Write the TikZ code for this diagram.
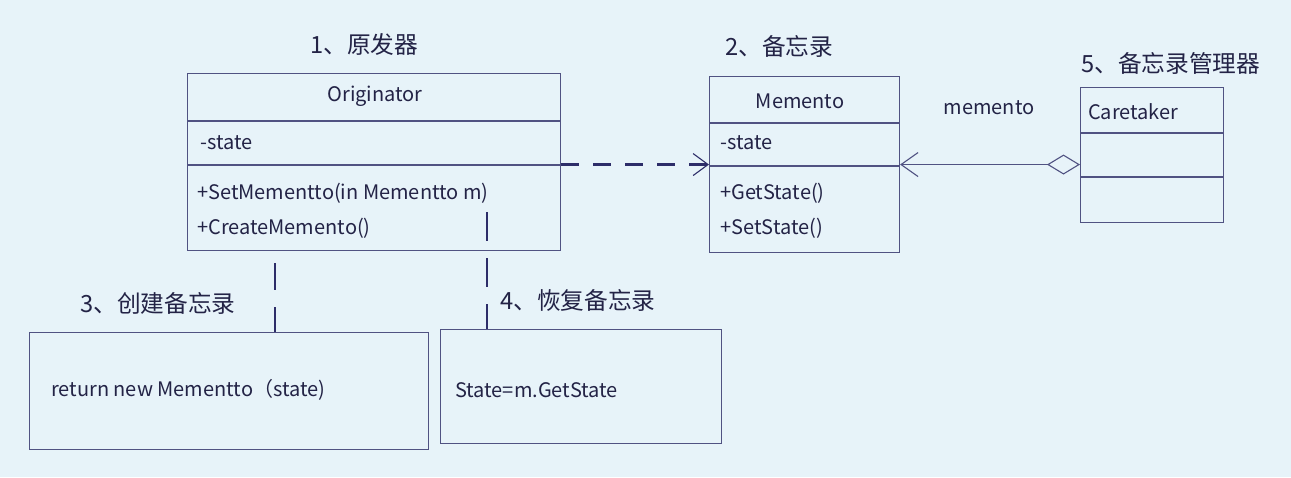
\documentclass[tikz,border=0pt]{standalone}
\usepackage{fontspec}
\setmainfont{Noto Sans CJK SC}
\usetikzlibrary{arrows.meta}
\definecolor{bgc}{RGB}{231,243,249}
\definecolor{ln}{RGB}{80,82,130}
\definecolor{dk}{RGB}{45,45,105}
\definecolor{tx}{RGB}{35,35,70}
\begin{document}
\begin{tikzpicture}[x=1pt,y=-1pt,
  box/.style={draw=ln, line width=1.1pt, inner sep=0pt, anchor=north west},
  lbl/.style={font=\fontsize{20}{23}\selectfont, text=tx, inner sep=0pt},
  captxt/.style={font=\fontsize{23.7}{27}\selectfont, text=tx, inner sep=0pt, anchor=west},
  div/.style={draw=ln, line width=1.1pt},
  vdash/.style={draw=dk, line width=2pt, dash pattern=on 26pt off 17pt}
]
\fill[bgc] (0,0) rectangle (1291,477);
\useasboundingbox (0,0) rectangle (1291,477);

% Originator
\node[box, minimum width=373pt, minimum height=177pt] (orig) at (187,73) {};
\draw[div] (187,121) -- (560,121);
\draw[div] (187,165) -- (560,165);
\node[lbl] (origT) at (375,96) {Originator};
\node[lbl, anchor=west] (origA) at (200,143) {-state};
\node[lbl, anchor=west] (origM1) at (197,193) {+SetMementto(in Mementto m)};
\node[lbl, anchor=west] (origM2) at (197,228) {+CreateMemento()};

% Memento
\node[box, minimum width=190pt, minimum height=176pt] (mem) at (709,76) {};
\draw[div] (709,123) -- (899,123);
\draw[div] (709,166) -- (899,166);
\node[lbl] (memT) at (800,101) {Memento};
\node[lbl, anchor=west] (memA) at (720,143) {-state};
\node[lbl, anchor=west] (memM1) at (720,193) {+GetState()};
\node[lbl, anchor=west] (memM2) at (720,228) {+SetState()};

% Caretaker
\node[box, minimum width=143pt, minimum height=135pt] (care) at (1080,87) {};
\draw[div] (1080,133) -- (1223,133);
\draw[div] (1080,177) -- (1223,177);
\node[lbl, anchor=west] (careT) at (1088,112) {Caretaker};

% bottom boxes
\node[box, minimum width=399pt, minimum height=117pt] (b3) at (29,332) {};
\node[lbl, anchor=west] (b3t) at (51,390) {return new Mementto（state)};
\node[box, minimum width=281pt, minimum height=114pt] (b4) at (440,329) {};
\node[lbl, anchor=west] (b4t) at (455,390) {State=m.GetState};

% captions
\node[captxt] (c1) at (310,44) {1、原发器};
\node[captxt] (c2) at (725,46) {2、备忘录};
\node[captxt] (c5) at (1081,63) {5、备忘录管理器};
\node[captxt] (c3) at (80,303) {3、创建备忘录};
\node[captxt] (c4) at (500,300) {4、恢复备忘录};
\node[lbl] (ml) at (989,108) {memento};

% connectors
\draw[draw=dk, line width=2.3pt, dash pattern=on 18pt off 14pt,
  -{Straight Barb[length=15pt,width=22pt,line width=1.1pt]}]
  (orig.east |- mem.west) -- (mem.west);
\draw[draw=ln, line width=1.1pt,
  {Straight Barb[length=17pt,width=24pt]}-{Diamond[length=33pt,width=20pt,fill=bgc]}]
  (mem.east) -- (mem.east -| care.west);

\coordinate (p3) at (275,332);
\draw[vdash, dash pattern=on 27pt off 17pt, dash phase=32pt] (orig.south -| p3) -- (p3);
\coordinate (p4) at (487,212);
\draw[vdash, dash pattern=on 29pt off 17pt] (p4) -- (p4 |- b4.north);
\end{tikzpicture}
\end{document}
